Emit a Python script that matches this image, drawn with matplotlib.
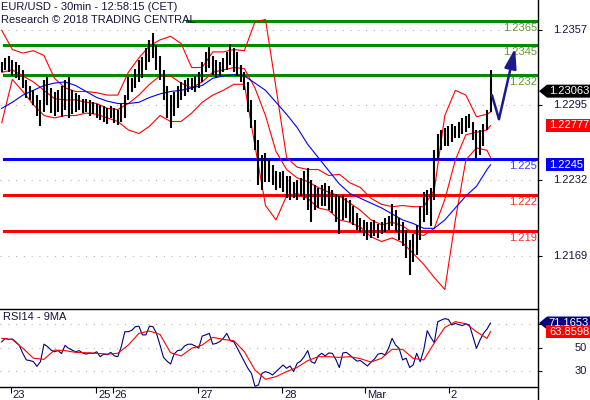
import numpy as np
import matplotlib
matplotlib.use("Agg")
import matplotlib.pyplot as plt
from matplotlib.patches import Polygon
from matplotlib.lines import Line2D
from matplotlib.transforms import IdentityTransform, offset_copy

plt.rcParams["font.family"] = ["Liberation Sans", "DejaVu Sans"]
plt.rcParams["font.size"] = 8

# hourly bars (high / low), EUR/USD
hi = [1.2331, 1.2334, 1.2336, 1.2332, 1.2331, 1.2328, 1.2324, 1.2316, 1.2311, 1.2307,
      1.2303, 1.2299, 1.2316, 1.2318, 1.2309, 1.2306, 1.2307, 1.2311, 1.2316, 1.2318,
      1.2307, 1.2305, 1.2303, 1.2300, 1.2300, 1.2299, 1.2297, 1.2296, 1.2295, 1.2294,
      1.2292, 1.2294, 1.2292, 1.2291, 1.2296, 1.2303, 1.2318, 1.2317, 1.2325, 1.2332,
      1.2335, 1.2342, 1.2349, 1.2355, 1.2345, 1.2336, 1.2324, 1.2311, 1.2303, 1.2306,
      1.2311, 1.2314, 1.2316, 1.2317, 1.2317, 1.2319, 1.2322, 1.2331, 1.2339, 1.2343,
      1.2336, 1.2332, 1.2331, 1.2334, 1.2339, 1.2346, 1.2342, 1.2339, 1.2328, 1.2322,
      1.2314, 1.2299, 1.2282, 1.2266, 1.2253, 1.2255, 1.2249, 1.2245, 1.2240, 1.2239,
      1.2240, 1.2236, 1.2236, 1.2231, 1.2232, 1.2234, 1.2240, 1.2242, 1.2232, 1.2228,
      1.2226, 1.2228, 1.2230, 1.2227, 1.2224, 1.2221, 1.2219, 1.2220, 1.2217, 1.2216,
      1.2211, 1.2205, 1.2201, 1.2199, 1.2197, 1.2197, 1.2199, 1.2196, 1.2197, 1.2201,
      1.2202, 1.2212, 1.2207, 1.2201, 1.2197, 1.2191, 1.2182, 1.2187, 1.2195, 1.2211,
      1.2222, 1.2224, 1.2226, 1.2257, 1.2271, 1.2274, 1.2276, 1.2277, 1.2279, 1.2277,
      1.2281, 1.2284, 1.2286, 1.2287, 1.2281, 1.2274, 1.2274, 1.2279, 1.2291, 1.2324]
lo = [1.2322, 1.2324, 1.2322, 1.2319, 1.2317, 1.2316, 1.2309, 1.2301, 1.2299, 1.2295,
      1.2286, 1.2277, 1.2289, 1.2295, 1.2288, 1.2286, 1.2289, 1.2285, 1.2291, 1.2284,
      1.2287, 1.2289, 1.2291, 1.2288, 1.2289, 1.2286, 1.2287, 1.2284, 1.2282, 1.2281,
      1.2279, 1.2284, 1.2280, 1.2278, 1.2281, 1.2284, 1.2299, 1.2306, 1.2309, 1.2314,
      1.2317, 1.2324, 1.2331, 1.2334, 1.2324, 1.2316, 1.2299, 1.2284, 1.2276, 1.2286,
      1.2292, 1.2299, 1.2302, 1.2306, 1.2307, 1.2306, 1.2309, 1.2314, 1.2322, 1.2326,
      1.2320, 1.2317, 1.2319, 1.2322, 1.2324, 1.2328, 1.2322, 1.2319, 1.2314, 1.2307,
      1.2289, 1.2276, 1.2257, 1.2228, 1.2224, 1.2231, 1.2231, 1.2228, 1.2224, 1.2226,
      1.2222, 1.2217, 1.2216, 1.2217, 1.2216, 1.2219, 1.2216, 1.2207, 1.2197, 1.2207,
      1.2209, 1.2211, 1.2211, 1.2207, 1.2205, 1.2197, 1.2187, 1.2199, 1.2201, 1.2197,
      1.2195, 1.2191, 1.2189, 1.2186, 1.2182, 1.2184, 1.2186, 1.2184, 1.2187, 1.2189,
      1.2191, 1.2194, 1.2189, 1.2182, 1.2177, 1.2167, 1.2153, 1.2164, 1.2170, 1.2182,
      1.2197, 1.2203, 1.2194, 1.2216, 1.2249, 1.2257, 1.2261, 1.2261, 1.2264, 1.2267,
      1.2267, 1.2271, 1.2272, 1.2276, 1.2266, 1.2251, 1.2253, 1.2261, 1.2274, 1.2289]
last_close = 1.23063

# indicators, sampled every 3 bars (+ last bar)
band_idx = list(range(0, 139, 3)) + [139]
bb_upper = [1.2357, 1.2341, 1.2338, 1.2340, 1.2336, 1.2317, 1.2309, 1.2306, 1.2306, 1.2305, 1.2303, 1.2303,
            1.2322, 1.2334, 1.2344, 1.2349, 1.2352, 1.2346, 1.2326, 1.2326, 1.2339, 1.2339, 1.2341, 1.2340,
            1.2364, 1.2366, 1.2309, 1.2251, 1.2243, 1.2241, 1.2241, 1.2236, 1.2237, 1.2230, 1.2226, 1.2217,
            1.2212, 1.2210, 1.2211, 1.2210, 1.2210, 1.2224, 1.2286, 1.2307, 1.2303, 1.2285, 1.2287, 1.2289]
bb_mid = [1.2322, 1.2324, 1.2319, 1.2314, 1.2307, 1.2300, 1.2299, 1.2299, 1.2297, 1.2296, 1.2292, 1.2291,
          1.2296, 1.2303, 1.2312, 1.2319, 1.2319, 1.2313, 1.2309, 1.2314, 1.2322, 1.2324, 1.2326, 1.2325,
          1.2309, 1.2286, 1.2256, 1.2241, 1.2234, 1.2231, 1.2226, 1.2222, 1.2219, 1.2213, 1.2207, 1.2199,
          1.2195, 1.2197, 1.2194, 1.2188, 1.2186, 1.2192, 1.2216, 1.2249, 1.2270, 1.2272, 1.2274, 1.22777]
bb_lower = [1.2280, 1.2316, 1.2306, 1.2295, 1.2286, 1.2284, 1.2286, 1.2286, 1.2288, 1.2287, 1.2284, 1.2281,
            1.2274, 1.2271, 1.2277, 1.2286, 1.2281, 1.2281, 1.2288, 1.2297, 1.2303, 1.2307, 1.2312, 1.2312,
            1.2261, 1.2211, 1.2199, 1.2219, 1.2221, 1.2217, 1.2209, 1.2207, 1.2199, 1.2197, 1.2193, 1.2185,
            1.2181, 1.2184, 1.2180, 1.2171, 1.2162, 1.2151, 1.2141, 1.2199, 1.2249, 1.2259, 1.2257, 1.2251]
ma_blue = [1.2292, 1.2297, 1.2303, 1.2307, 1.2311, 1.2313, 1.2314, 1.2311, 1.2306, 1.2301, 1.2298, 1.2296,
           1.2296, 1.2297, 1.2301, 1.2304, 1.2306, 1.2307, 1.2309, 1.2311, 1.2317, 1.2319, 1.2320, 1.2319,
           1.2313, 1.2307, 1.2297, 1.2287, 1.2276, 1.2262, 1.2251, 1.2240, 1.2229, 1.2221, 1.2217, 1.2213,
           1.2209, 1.2204, 1.2199, 1.2196, 1.2192, 1.2192, 1.2199, 1.2209, 1.2219, 1.2227, 1.2241, 1.2245]

rsi = [55, 58, 57, 57.5, 55, 52, 45, 39.5, 39, 38,
       34, 38, 53, 51, 48, 46.5, 47.5, 45, 52, 49.5,
       48, 46.5, 47.5, 45.5, 44.5, 45.5, 45, 46.5, 42.3, 44.5,
       44, 46, 43, 42.3, 51, 63.7, 63.7, 65, 68, 68.5,
       61, 61, 68.5, 68, 62.3, 52.3, 41.7, 38.5, 36, 44.5,
       47.5, 48, 51.5, 53, 53, 51.5, 49.5, 60, 61, 62.3,
       53, 53.7, 55.2, 58, 62.3, 56, 55, 49.5, 43.7, 38,
       32.3, 28, 17, 18, 28, 29.5, 28.5, 26.6, 29.5, 32.3,
       35.2, 32.3, 34.3, 29.5, 36.6, 38.5, 42.3, 47.5, 38, 36.6,
       43, 45.2, 43, 45.5, 45.2, 40, 33, 45.5, 46, 43.7,
       41, 38.5, 39, 36.6, 34.3, 37.7, 40.3, 44.5, 45.2, 43.7,
       49.5, 58, 52.3, 49.5, 39.5, 41, 33, 35.2, 45.2, 38,
       48, 64.6, 58.9, 54.3, 72.3, 73.7, 74.9, 74.3, 69.5, 70.9,
       69.7, 69.1, 70.3, 69.5, 59.5, 49.5, 56.6, 62.3, 66, 71.1653]
rsi_ma = [58, 57, 49.5, 41, 40, 48, 47.5, 46, 45.7, 45.2, 44.5, 45.2,
          52.3, 62.3, 64.3, 61.4, 45.7, 42.9, 49.5, 52.3, 58.9, 57.1, 56, 46.6,
          30.9, 22.9, 25.2, 29.5, 33.1, 38.9, 42.3, 42.3, 41.7, 42.3, 40.6, 37.7,
          40.9, 48.6, 48.6, 40.9, 39.5, 54, 67.4, 72.3, 70.6, 63.7, 58, 63.8598]

# support / resistance levels
levels = [1.2365, 1.2345, 1.232, 1.225, 1.222, 1.219]
level_labels = ["1.2365", "1.2345", "1.232", "1.225", "1.222", "1.219"]
level_colors = ["#008c00", "#008c00", "#008c00", "#0000ff", "#ff0000", "#ff0000"]
level_text_colors = ["#5f9a22", "#5f9a22", "#5f9a22", "#3a3aff", "#ff2a2a", "#ff2a2a"]

# forecast arrow (bar position, price)
arrow_x = [139.4, 141.4, 146.0]
arrow_p = [1.2303, 1.2283, 1.2342]

price_ticks = [1.2357, 1.2295, 1.2232, 1.2169]
rsi_ticks = [30, 50, 70]
day_pos = [2.6, 26.8, 31.6, 55.8, 79.7, 103.3, 127.1]
day_labels = ["23", "25", "26", "27", "28", "Mar", "2"]

txt = "#14143c"
navy = "#1a1a8c"

fig = plt.figure(figsize=(5.9, 4.0), dpi=100)
ax = fig.add_axes([0, 0.23, 538 / 590, 0.77])
rx = fig.add_axes([0, 0.0325, 538 / 590, 0.195])

# price panel
x = np.arange(len(hi))
for i, (lv, c) in enumerate(zip(levels, level_colors)):
    start = 0.348 if i == 0 else 0.0075
    ax.axhline(lv, xmin=start, xmax=1, color=c, lw=2.2, zorder=1)
    ax.text(1.0, lv, level_labels[i], color=level_text_colors[i], ha="right", va="center",
            transform=offset_copy(ax.get_yaxis_transform(), fig, x=-1, y=-7, units="dots"))

ax.plot(band_idx, bb_upper, color="#ff0000", lw=0.8, zorder=2)
ax.plot(band_idx, bb_mid, color="#ff0000", lw=0.8, zorder=2)
ax.plot(band_idx, bb_lower, color="#ff0000", lw=0.8, zorder=2)
ax.plot(band_idx, ma_blue, color="#0000ff", lw=0.8, zorder=2)
ax.vlines(x, lo, hi, color="black", lw=1.5, zorder=3)

ax.plot(arrow_x[:2], arrow_p[:2], color=navy, lw=1.8, solid_capstyle="round", zorder=4)
ax.annotate("", xy=(arrow_x[2], arrow_p[2]), xytext=(arrow_x[1], arrow_p[1]),
            arrowprops=dict(arrowstyle="-|>,head_length=1.0,head_width=0.3", mutation_scale=12,
                            color=navy, lw=1.8, shrinkA=0, shrinkB=0), zorder=4)

ax.set_xlim(-0.5, 152.5)
ax.set_ylim(1.21256, 1.238225)
ax.set_yticks(price_ticks)
ax.yaxis.tick_right()
ax.tick_params(axis="y", direction="out", length=3, width=0.8, labelright=False)
ax.tick_params(axis="x", length=0, labelbottom=False)
ax.grid(axis="y", color="#b4b4b4", linestyle=(0, (1, 6)), lw=0.8)
for t in price_ticks:
    ax.text(1.0, t, f"{t:.4f}", color=txt, ha="right", va="center",
            transform=offset_copy(ax.get_yaxis_transform(), fig, x=49, y=0, units="dots"))
for s in ax.spines.values():
    s.set_visible(False)

ax.text(0, 1, "EUR/USD - 30min - 12:58:15 (CET)", color=txt, va="center",
        transform=offset_copy(ax.transAxes, fig, x=1, y=-7, units="dots"))
ax.text(0, 1, "Research \u00a9 2018 TRADING CENTRAL", color=txt, va="center",
        transform=offset_copy(ax.transAxes, fig, x=1, y=-20, units="dots"))

# RSI panel
rx.plot(x, rsi, color="#000080", lw=0.8)
rx.plot(band_idx, rsi_ma, color="#ff0000", lw=0.8)
rx.set_xlim(-0.5, 152.5)
rx.set_ylim(16.3, 83.2)
rx.set_yticks(rsi_ticks)
rx.yaxis.tick_right()
rx.tick_params(axis="y", direction="out", length=3, width=0.8, labelright=False)
rx.set_xticks(day_pos)
rx.tick_params(axis="x", direction="out", length=4.5, width=0.8, labelbottom=False)
rx.grid(axis="y", color="#b4b4b4", linestyle=(0, (1, 6)), lw=0.8)
for t in rsi_ticks[:2]:
    rx.text(1.0, t, str(t), color=txt, ha="right", va="center",
            transform=offset_copy(rx.get_yaxis_transform(), fig, x=49, y=0, units="dots"))
for d, s in zip(day_pos, day_labels):
    rx.text(d, 0, s, color=txt, ha="left", va="center",
            transform=offset_copy(rx.get_xaxis_transform(), fig, x=2, y=-8, units="dots"))
rx.spines["left"].set_visible(False)
rx.spines["right"].set_visible(False)
rx.spines["top"].set_linewidth(1.0)
rx.spines["bottom"].set_linewidth(1.0)
rx.text(0, 1, "RSI14 - 9MA", color=txt, va="center",
        transform=offset_copy(rx.transAxes, fig, x=3, y=-8, units="dots"))

fig.add_artist(Line2D([538 / 590, 538 / 590], [0, 1], transform=fig.transFigure, color="black", lw=1.0))


def tag(axis, value, label, color, pointed, right=590):
    yd = axis.transData.transform((0, value))[1]
    h = 6.5
    if pointed:
        pts = [(539, yd), (547, yd + h), (right, yd + h), (right, yd - h), (547, yd - h)]
    else:
        pts = [(546, yd + h), (right, yd + h), (right, yd - h), (546, yd - h)]
    fig.add_artist(Polygon(pts, closed=True, facecolor=color, edgecolor="none",
                           transform=IdentityTransform()))
    fig.text((546 + right) / 2 + 1, yd, label, color="white", ha="center", va="center",
             transform=IdentityTransform(), zorder=5)


tag(ax, last_close, "1.23063", "black", True)
tag(ax, bb_mid[-1], "1.22777", "#ff0000", False)
tag(ax, ma_blue[-1], "1.2245", "#0000ff", False, right=584)
tag(rx, rsi[-1], "71.1653", "#000080", True)
tag(rx, rsi_ma[-1], "63.8598", "#ff0000", False)

fig.savefig("out.png", dpi=100)
